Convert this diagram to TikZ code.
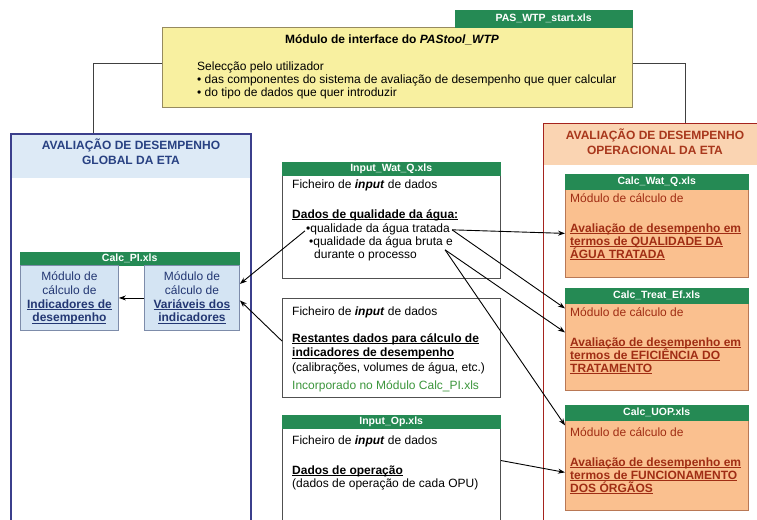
\documentclass[tikz,border=0pt]{standalone}
\usepackage{fontspec}
\setmainfont{Liberation Sans}
\usetikzlibrary{arrows.meta}
\newcommand{\ulx}[1]{\underline{\smash{#1}}}
\definecolor{gbar}{RGB}{37,138,84}
\definecolor{yfill}{RGB}{248,240,160}
\definecolor{yline}{RGB}{150,138,95}
\definecolor{bline}{RGB}{59,63,140}
\definecolor{bhead}{RGB}{221,234,246}
\definecolor{btitle}{RGB}{40,65,130}
\definecolor{bbox}{RGB}{212,228,243}
\definecolor{bboxline}{RGB}{125,140,170}
\definecolor{btext}{RGB}{35,55,115}
\definecolor{rline}{RGB}{165,35,30}
\definecolor{rhead}{RGB}{250,212,178}
\definecolor{rtitle}{RGB}{168,55,28}
\definecolor{rbox}{RGB}{250,192,143}
\definecolor{rboxline}{RGB}{185,120,85}
\definecolor{rtext}{RGB}{160,45,20}
\definecolor{mline}{RGB}{80,80,80}
\definecolor{gtext}{RGB}{60,150,60}
\begin{document}
\begin{tikzpicture}[x=1pt,y=-1pt,
  every node/.style={font=\fontsize{12}{13.5}\selectfont},
  txt/.style={anchor=base west, inner sep=0pt, align=left},
  barst/.style={fill=gbar, draw=gbar, anchor=north west, inner sep=0pt, text=white, font=\fontsize{10.5}{12}\selectfont\bfseries},
  midbox/.style={draw=mline, line width=1.1pt, fill=white, anchor=north west, inner sep=0pt},
  rbx/.style={draw=rboxline, line width=0.8pt, fill=rbox, anchor=north west, inner sep=0pt},
  pibox/.style={draw=bboxline, line width=0.9pt, fill=bbox, anchor=north west, inner sep=0pt, align=center, text=btext},
  arr/.style={-{Stealth[length=7pt,width=5pt]}, line width=0.9pt, black},
  link/.style={line width=1pt, draw=black!75}
]
\useasboundingbox (0,0) rectangle (757,519);
\clip (0,0) rectangle (757,519);

% top interface module
\node[draw=yline, fill=yfill, line width=1pt, anchor=north west, inner sep=0pt, minimum width=470, minimum height=80] (yb) at (162,27) {};
\node[barst, minimum width=177, minimum height=17] (tab) at (455,10) {PAS\_WTP\_start.xls};
\node[anchor=base, inner sep=0pt, font=\fontsize{12}{13.5}\selectfont\bfseries] (ytitle) at (392,44) {Módulo de interface do \textit{PAStool\_WTP}};
% multi-line nodes: base anchor = baseline of the last line
\node[txt, font=\fontsize{12}{13}\selectfont] (ysel) at (197,96) {Selecção pelo utilizador\\• das componentes do sistema de avaliação de desempenho que quer calcular\\• do tipo de dados que quer introduzir};

% left panel
\node[fill=bhead, anchor=north west, inner sep=0pt, minimum width=240, minimum height=45] (lph) at (10,133) {};
\node[draw=bline, line width=1.6pt, anchor=north west, inner sep=0pt, minimum width=240, minimum height=420] (lp) at (10,133) {};
\node[anchor=base, inner sep=0pt, align=center, text=btitle, font=\fontsize{12}{15}\selectfont\bfseries] (lpt) at (131,164) {AVALIAÇÃO DE DESEMPENHO\\GLOBAL DA ETA};

\node[barst, minimum width=219, minimum height=13] (pibar) at (20,252) {Calc\_PI.xls};
\node[pibox, minimum width=98, minimum height=65, font=\fontsize{12}{13.7}\selectfont] (ind) at (20,265) {Módulo de\\cálculo de\\\ulx{\textbf{Indicadores de}}\\\ulx{\textbf{desempenho}}};
\node[pibox, minimum width=95, minimum height=65, font=\fontsize{12}{13.7}\selectfont] (var) at (144,265) {Módulo de\\cálculo de\\\ulx{\textbf{Variáveis dos}}\\\ulx{\textbf{indicadores}}};

% right panel
\node[fill=rhead, anchor=north west, inner sep=0pt, minimum width=230, minimum height=42] (rph) at (543,123) {};
\node[draw=rline, line width=1.4pt, anchor=north west, inner sep=0pt, minimum width=230, minimum height=420] (rp) at (543,123) {};
\node[anchor=base, inner sep=0pt, align=center, text=rtitle, font=\fontsize{12}{15}\selectfont\bfseries] (rpt) at (655,154) {AVALIAÇÃO DE DESEMPENHO\\OPERACIONAL DA ETA};

\node[rbx, minimum width=183, minimum height=88] (cwq) at (565,189) {};
\node[barst, minimum width=183, minimum height=15] (cwqbar) at (565,174) {Calc\_Wat\_Q.xls};
\node[txt, text=rtext] (r1a) at (570,202) {Módulo de cálculo de};
\node[txt, text=rtext, font=\fontsize{12}{13}\selectfont\bfseries] (r1b) at (570,258) {\ulx{Avaliação de desempenho em}\\\ulx{termos de QUALIDADE DA}\\\ulx{ÁGUA TRATADA}};

\node[rbx, minimum width=183, minimum height=87] (cte) at (565,303) {};
\node[barst, minimum width=183, minimum height=15] (ctebar) at (565,288) {Calc\_Treat\_Ef.xls};
\node[txt, text=rtext] (r2a) at (570,316) {Módulo de cálculo de};
\node[txt, text=rtext, font=\fontsize{12}{13}\selectfont\bfseries] (r2b) at (570,372) {\ulx{Avaliação de desempenho em}\\\ulx{termos de EFICIÊNCIA DO}\\\ulx{TRATAMENTO}};

\node[rbx, minimum width=183, minimum height=90] (cuop) at (565,420) {};
\node[barst, minimum width=183, minimum height=15] (cuopbar) at (565,405) {Calc\_UOP.xls};
\node[txt, text=rtext] (r3a) at (570,436) {Módulo de cálculo de};
\node[txt, text=rtext, font=\fontsize{12}{13}\selectfont\bfseries] (r3b) at (570,492) {\ulx{Avaliação de desempenho em}\\\ulx{termos de FUNCIONAMENTO}\\\ulx{DOS ÓRGÃOS}};

% middle input boxes
\node[midbox, minimum width=218, minimum height=103] (wq) at (282,175) {};
\node[barst, minimum width=218, minimum height=13] (wqbar) at (282,162) {Input\_Wat\_Q.xls};
\node[txt] (m1a) at (292,188) {Ficheiro de \textbf{\textit{input}} de dados};
\node[txt] (m1b) at (292,218) {\ulx{\textbf{Dados de qualidade da água:}}};
\node[txt] (btrat) at (306,232) {•qualidade da água tratada};
\node[txt] (bbruta) at (309,245) {•qualidade da água bruta e};
\node[txt] (bdur) at (314,258) {durante o processo};

\node[midbox, minimum width=218, minimum height=99] (rest) at (282,298) {};
\node[txt] (m2a) at (292,315) {Ficheiro de \textbf{\textit{input}} de dados};
\node[txt, font=\fontsize{12}{14.5}\selectfont] (m2b) at (292,371) {\ulx{\textbf{Restantes dados para cálculo de}}\\\ulx{\textbf{indicadores de desempenho}}\\(calibrações, volumes de água, etc.)};
\node[txt, text=gtext] (m2c) at (292,389) {Incorporado no Módulo Calc\_PI.xls};

\node[midbox, minimum width=218, minimum height=110] (op) at (282,428) {};
\node[barst, minimum width=218, minimum height=13] (opbar) at (282,415) {Input\_Op.xls};
\node[txt] (m3a) at (292,444) {Ficheiro de \textbf{\textit{input}} de dados};
\node[txt, font=\fontsize{12}{13}\selectfont] (m3b) at (292,487) {\ulx{\textbf{Dados de operação}}\\(dados de operação de cada OPU)};

% connectors
\draw[link] ([yshift=4pt]yb.west) -| ([xshift=-37pt]lp.north);
\draw[link] ([yshift=4pt]yb.east) -| ([xshift=27pt]rp.north);

\coordinate (bs) at ([xshift=-8pt,yshift=-8pt]bbruta.east);
\coordinate (ts) at ([xshift=2pt,yshift=-1pt]btrat.east);
\draw[arr] ([xshift=-1pt,yshift=-2pt]btrat.west) -- ([yshift=14pt]var.east);
\draw[arr] ([yshift=7pt]rest.west) -- ([yshift=-2.5pt]var.east);
\draw[arr] (var.west) -- (ind.east);
\draw[arr] (ts) -- (cwq.west);
\draw[arr] (ts) -- ([yshift=38.5pt]cte.west);
\draw[arr] (bs) -- ([yshift=14.5pt]cte.west);
\draw[arr] (bs) -- ([yshift=40pt]cuop.west);
\draw[arr] ([yshift=23pt]op.east) -- ([yshift=-7pt]cuop.west);
\end{tikzpicture}
\end{document}
